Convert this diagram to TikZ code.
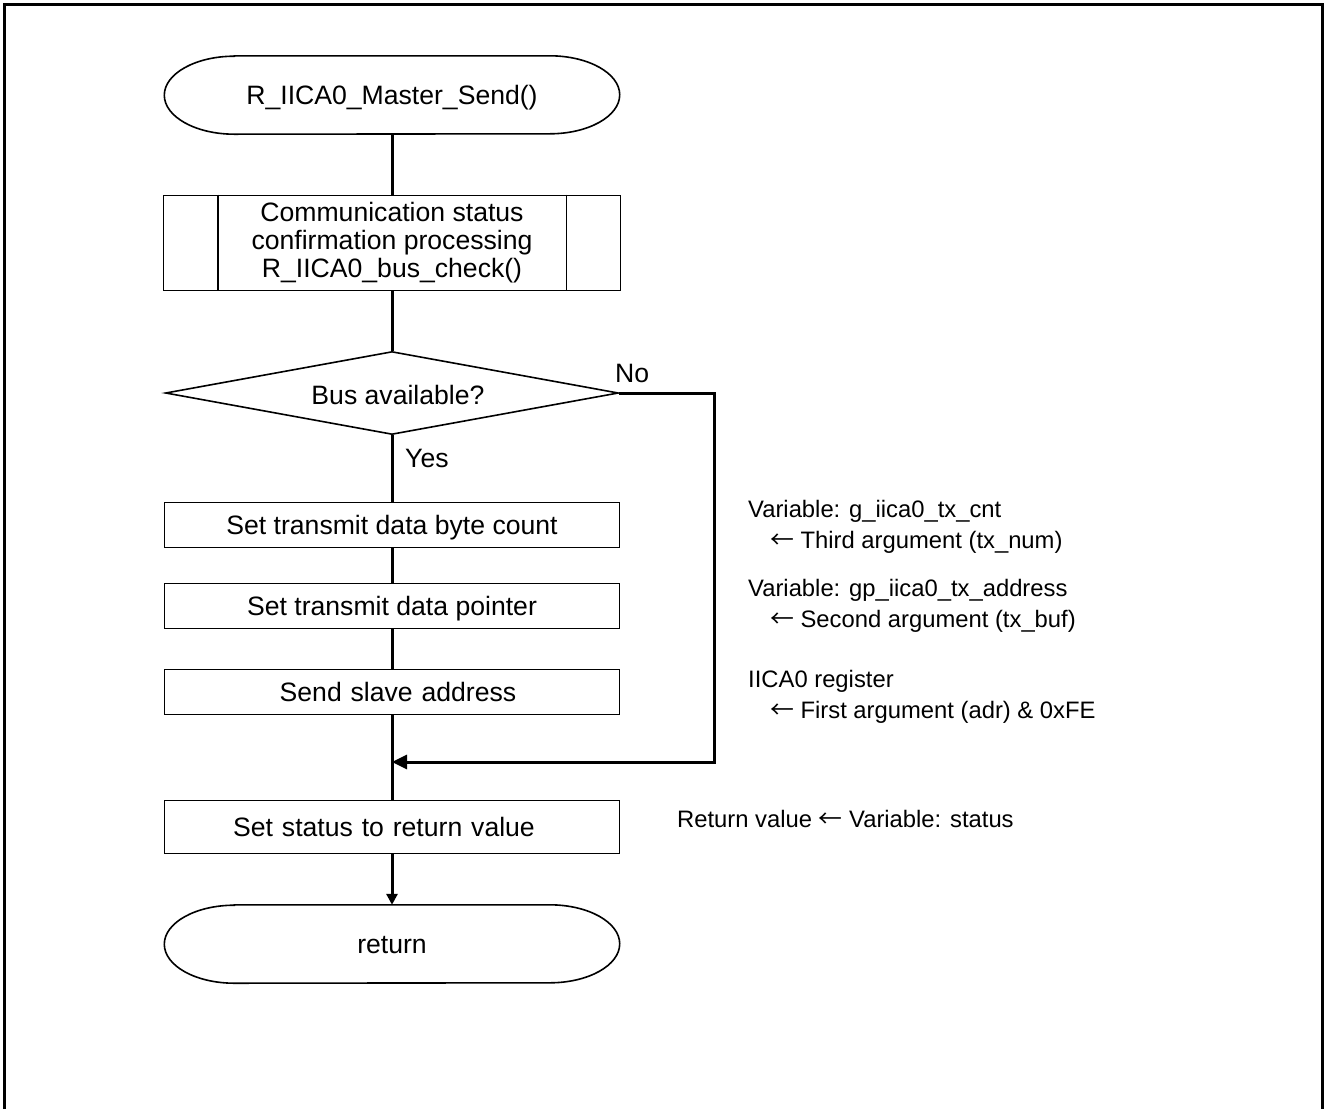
\documentclass[tikz,border=0pt]{standalone}
\usepackage{fontspec}
\setmainfont{Liberation Sans}
\newfontfamily\arrowfont{Noto Sans CJK JP}
\newcommand{\larr}{{\arrowfont ←}}
\usetikzlibrary{shapes.geometric,arrows.meta}

\tikzset{
  main/.style={font=\fontsize{26.6}{28}\selectfont},
  note/.style={font=\fontsize{23.8}{31.5}\selectfont, anchor=west, inner sep=0pt, align=left},
  procbox/.style={main, draw, line width=1.6pt, rectangle, minimum width=455pt, minimum height=45pt, inner sep=0pt, text height=19pt, text depth=0pt},
  subbox/.style={main, draw, line width=1.6pt, rectangle, minimum width=457pt, minimum height=95pt, inner sep=0pt, align=center},
  termshape/.style={main, rectangle, minimum width=455pt, minimum height=78pt, inner sep=0pt, text height=19pt, text depth=0pt},
  decision/.style={main, draw, line width=1.6pt, diamond, aspect=5.46, minimum width=453pt, minimum height=83pt, inner sep=0pt},
  conn/.style={line width=3pt},
  label/.style={main, inner sep=0pt, anchor=west},
}

\begin{document}
\begin{tikzpicture}[x=1pt,y=1pt]
  \useasboundingbox (0,0) rectangle (1324,-1109);
  % outer frame, open at the bottom
  \draw[line width=3pt] (4,-1109) -- (4,-4) -- (1322,-4) -- (1322,-1109);

  % nodes of the flow
  \node[termshape] (start) at (392,-95) {R\_IICA0\_Master\_Send()};
  \node[subbox] (sub) at (392,-243) {Communication status\\confirmation processing\\R\_IICA0\_bus\_check()};
  \node[decision] (dec) at (392,-393) {};
  \node[main, text height=19pt, text depth=0pt, inner sep=0pt] at (398,-395) {Bus available?};
  \node[procbox] (b1) at (392,-525) {Set transmit data byte count};
  \node[procbox] (b2) at (392,-606) {Set transmit data pointer};
  \node[procbox, text width=455pt, align=center] (b3) at (392,-692) {\hspace*{12pt}Send slave address};
  \node[procbox, minimum height=53pt, text width=455pt, align=center] (b4) at (392,-827) {\hspace*{-16pt}Set status to return value};
  \node[termshape] (ret) at (392,-944) {return};

  % terminal outlines: straight edges with elliptic ends
  \foreach \t in {start,ret}{
    \draw[line width=1.6pt]
      ([xshift=70pt]\t.north west) -- ([xshift=-70pt]\t.north east)
      arc[start angle=90,end angle=-90,x radius=70pt,y radius=39pt]
      -- ([xshift=70pt]\t.south west)
      arc[start angle=270,end angle=90,x radius=70pt,y radius=39pt] -- cycle;
  }

  % subroutine side bars
  \draw[line width=1.6pt] ([xshift=55pt]sub.north west) -- ([xshift=55pt]sub.south west);
  \draw[line width=1.6pt] ([xshift=-55pt]sub.north east) -- ([xshift=-55pt]sub.south east);

  % connectors
  \coordinate (turn) at (714,-393);
  \coordinate (merge) at (392,-762);
  \draw[conn] (start.south) -- (sub.north);
  \draw[conn] (sub.south) -- (dec.north);
  \draw[conn] (dec.south) -- (b1.north);
  \draw[conn] (b1.south) -- (b2.north);
  \draw[conn] (b2.south) -- (b3.north);
  \draw[conn] (b3.south) -- (b4.north);
  \draw[conn, -{Triangle[length=15pt,width=14pt]}] (dec.east) -- (turn) |- (merge);
  \draw[conn, -{Triangle[length=11pt,width=11pt]}] (b4.south) -- (ret.north);

  % branch labels
  \node[label] (no) at (615,-373) {No};
  \node[label] (yes) at (405,-458) {Yes};

  % annotations
  \node[note] (n1) at (748,-527) {Variable: g\_iica0\_tx\_cnt\\\hspace*{22pt}\larr\ Third argument (tx\_num)};
  \node[note] (n2) at (748,-606) {Variable: gp\_iica0\_tx\_address\\\hspace*{22pt}\larr\ Second argument (tx\_buf)};
  \node[note] (n3) at (748,-697) {IICA0 register\\\hspace*{22pt}\larr\ First argument (adr) \& 0xFE};
  \node[note] (n4) at (677,-819) {Return value \larr\ Variable: status};
\end{tikzpicture}
\end{document}
